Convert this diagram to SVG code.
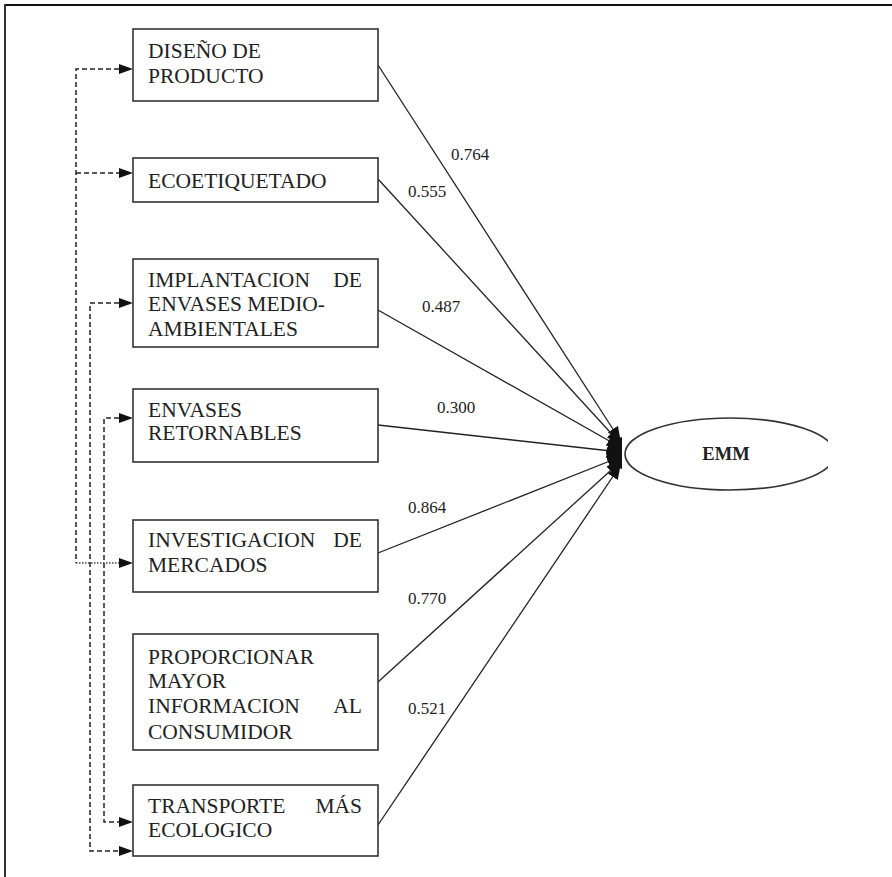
<svg xmlns="http://www.w3.org/2000/svg" width="892" height="877" viewBox="0 0 892 877">
<style>
  .box rect { fill: #fff; stroke: #333; stroke-width: 1.6; }
  .box text, .lbl { font-family: "Liberation Serif", "Times New Roman", serif; fill: #222; }
  .box text { font-size: 21.5px; }
  .lbl { font-size: 17px; }
  .path { stroke: #222; stroke-width: 1.3; fill: none; marker-end: url(#ah); }
  .cov { stroke: #222; stroke-width: 1.5; fill: none; stroke-dasharray: 5 3; }
  .dot { stroke: #444; stroke-width: 1.3; fill: none; stroke-dasharray: 1.5 1.5; }
  .head { fill: #111; }
</style>
<defs>
  <marker id="ah" markerWidth="14" markerHeight="12" refX="13" refY="6" orient="auto" markerUnits="userSpaceOnUse">
    <path d="M0,0 L14,6 L0,12 Z" fill="#111"/>
  </marker>
  <clipPath id="clipE"><rect x="600" y="400" width="228" height="110"/></clipPath>
</defs>
<rect x="0" y="0" width="892" height="877" fill="#fff"/>
<!-- frame -->
<line x1="4" y1="5" x2="892" y2="5" stroke="#111" stroke-width="2"/>
<line x1="5" y1="4" x2="5" y2="877" stroke="#333" stroke-width="2"/>

<g id="connectors">
  <!-- paths to EMM -->
  <line class="path" x1="378" y1="65" x2="620" y2="440"/>
  <line class="path" x1="378" y1="179" x2="620" y2="443"/>
  <line class="path" x1="378" y1="310" x2="620" y2="447"/>
  <line class="path" x1="378" y1="425" x2="620" y2="452"/>
  <line class="path" x1="378" y1="553" x2="620" y2="457"/>
  <line class="path" x1="378" y1="682" x2="620" y2="462"/>
  <line class="path" x1="378" y1="825" x2="620" y2="466"/>
  <path class="head" d="M622,437 L622,469 Q607,464 606,453 Q607,441 622,437 Z"/>
  <!-- covariance lines -->
  <polyline class="cov" points="119,69 76,69 76,563"/>
  <line class="cov" x1="76" y1="173" x2="119" y2="173"/>
  <line class="dot" x1="76" y1="563" x2="119" y2="563"/>
  <polyline class="cov" points="119,303 90,303 90,851 119,851"/>
  <polyline class="cov" points="119,418 104,418 104,822 119,822"/>
  <path class="head" d="M119,64 L133,69 L119,74 Z"/>
  <path class="head" d="M119,168 L133,173 L119,178 Z"/>
  <path class="head" d="M119,298 L133,303 L119,308 Z"/>
  <path class="head" d="M119,413 L133,418 L119,423 Z"/>
  <path class="head" d="M119,558 L133,563 L119,568 Z"/>
  <path class="head" d="M119,817 L133,822 L119,827 Z"/>
  <path class="head" d="M119,846 L133,851 L119,856 Z"/>
  <!-- coefficients -->
  <text class="lbl" x="451" y="160">0.764</text>
  <text class="lbl" x="408" y="197">0.555</text>
  <text class="lbl" x="422" y="312">0.487</text>
  <text class="lbl" x="437" y="413">0.300</text>
  <text class="lbl" x="408" y="513">0.864</text>
  <text class="lbl" x="408" y="604">0.770</text>
  <text class="lbl" x="408" y="714">0.521</text>
</g>

<g id="n1" class="box">
  <rect x="133" y="29" width="245" height="72"/>
  <text x="148" y="58">DISEÑO DE</text>
  <text x="148" y="83">PRODUCTO</text>
</g>
<g id="n2" class="box">
  <rect x="133" y="158" width="245" height="44"/>
  <text x="148" y="188">ECOETIQUETADO</text>
</g>
<g id="n3" class="box">
  <rect x="133" y="259" width="245" height="88"/>
  <text x="148" y="287">IMPLANTACION</text>
  <text x="362" y="287" text-anchor="end">DE</text>
  <text x="148" y="311">ENVASES MEDIO-</text>
  <text x="148" y="336">AMBIENTALES</text>
</g>
<g id="n4" class="box">
  <rect x="133" y="389" width="245" height="73"/>
  <text x="148" y="417">ENVASES</text>
  <text x="148" y="440">RETORNABLES</text>
</g>
<g id="n5" class="box">
  <rect x="133" y="520" width="245" height="72"/>
  <text x="148" y="547">INVESTIGACION</text>
  <text x="362" y="547" text-anchor="end">DE</text>
  <text x="148" y="572">MERCADOS</text>
</g>
<g id="n6" class="box">
  <rect x="133" y="634" width="245" height="116"/>
  <text x="148" y="664">PROPORCIONAR</text>
  <text x="148" y="688">MAYOR</text>
  <text x="148" y="713">INFORMACION</text>
  <text x="362" y="713" text-anchor="end">AL</text>
  <text x="148" y="739">CONSUMIDOR</text>
</g>
<g id="n7" class="box">
  <rect x="133" y="785" width="245" height="71"/>
  <text x="148" y="813">TRANSPORTE</text>
  <text x="362" y="813" text-anchor="end">MÁS</text>
  <text x="148" y="837">ECOLOGICO</text>
</g>
<g id="emm">
  <ellipse cx="730" cy="454" rx="105" ry="36" fill="#fff" stroke="#333" stroke-width="1.6" clip-path="url(#clipE)"/>
  <text x="726" y="460" text-anchor="middle" font-family="Liberation Serif, Times New Roman, serif" font-weight="bold" font-size="18.5" fill="#222">EMM</text>
</g>
</svg>
